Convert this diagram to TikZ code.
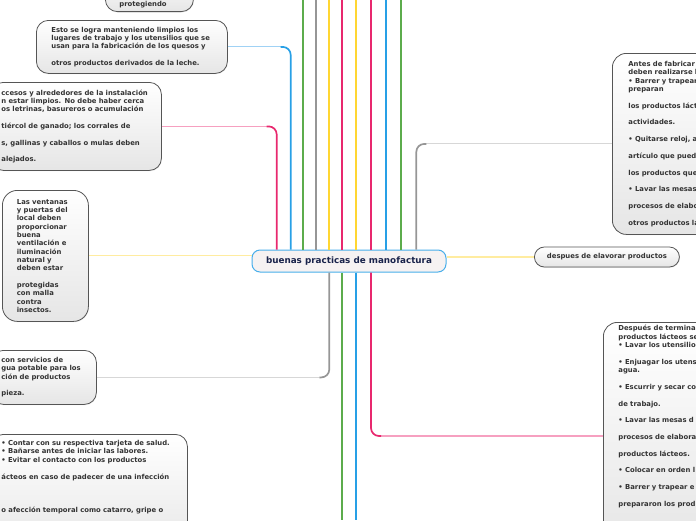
\documentclass[tikz,border=0pt]{standalone}
\usepackage{fontspec}
\setmainfont{DejaVu Sans}
\usetikzlibrary{shadows}

\definecolor{mmpink}{RGB}{232,40,110}
\definecolor{mmpinklight}{RGB}{246,160,192}
\definecolor{mmblue}{RGB}{40,160,230}
\definecolor{mmbluelight}{RGB}{160,210,245}
\definecolor{mmgreen}{RGB}{92,172,76}
\definecolor{mmgray}{RGB}{150,150,150}
\definecolor{mmgraylight}{RGB}{215,215,215}
\definecolor{mmyellow}{RGB}{255,214,50}
\definecolor{mmyellowlight}{RGB}{255,236,160}
\definecolor{mmnavy}{RGB}{25,35,75}
\definecolor{mmborder}{RGB}{85,85,85}
\definecolor{mmtitlefill}{RGB}{246,242,242}

\newcommand{\mmgap}{\\[8.35pt]}

\tikzset{
  topic/.style={draw=mmborder, line width=0.8pt, rounded corners=12pt,
    top color=white, bottom color=black!10, align=left, inner ysep=0pt,
    text=black!80, font=\fontsize{6.85}{8.35}\selectfont\bfseries,
    drop shadow={opacity=0.2, shadow xshift=0.5pt, shadow yshift=-0.8pt}},
  central/.style={draw=mmblue!85, line width=1pt, fill=mmtitlefill,
    rounded corners=8pt, minimum width=194pt, minimum height=22pt, inner sep=0pt,
    text=mmnavy, font=\fontsize{8.8}{10}\selectfont\bfseries},
  branch/.style={line width=1.7pt, rounded corners=8pt},
  twig/.style={line width=1.1pt}
}

\begin{document}
\begin{tikzpicture}[x=1pt, y=-1pt]
\useasboundingbox (0,0) rectangle (696,520);
\clip (0,0) rectangle (696,520);

% ends of the branches that leave the page
\coordinate (up1) at (303.3,0);
\coordinate (up2) at (316.3,0);
\coordinate (up3) at (329.3,0);
\coordinate (up4) at (342.3,0);
\coordinate (up5) at (356.3,0);
\coordinate (up6) at (371,0);
\coordinate (up7) at (386,0);
\coordinate (up8) at (401.3,0);
\coordinate (dn1) at (342.3,520);
\coordinate (dn2) at (356.3,520);
% columns of the bent branches
\coordinate (colacc) at (276.7,0);
\coordinate (colesto) at (290.7,0);
\coordinate (colantes) at (416.3,0);
\coordinate (colserv) at (329.3,0);
\coordinate (colafter) at (371,0);

\node[central] (cen) at (349,261) {buenas practicas de manofactura};

\node[topic, anchor=south west, text width=60pt, inner xsep=14pt, inner ysep=4pt] (prot) at (105,12)
  {\mbox{}\\[20pt]protegiendo};

\node[topic, anchor=north west, minimum height=53pt, text width=161pt, inner xsep=15pt] (esto) at (36,20)
  {Esto se logra manteniendo limpios los\\lugares de trabajo y los utensilios que se\\usan para la fabricación de los quesos y\mmgap otros productos derivados de la leche.};

\node[topic, anchor=north west, minimum height=88pt, text width=150pt, inner xsep=10pt] (acc) at (-9,82)
  {ccesos y alrededores de la instalación\\n estar limpios. No debe haber cerca\\os letrinas, basureros o acumulación\mmgap tiércol de ganado; los corrales de\mmgap s, gallinas y caballos o mulas deben\mmgap alejados.};

\node[topic, rounded corners=15pt, anchor=north west, minimum height=131pt, text width=57pt, inner xsep=14.5pt] (vent) at (2,190)
  {Las ventanas\\y puertas del\\local deben\\proporcionar\\buena\\ventilación e\\iluminación\\natural y\\deben estar\mmgap protegidas\\con malla\\contra\\insectos.};

\node[topic, anchor=north west, minimum height=54pt, text width=85pt, inner xsep=10pt] (serv) at (-9,350)
  {con servicios de\\gua potable para los\\ción de productos\mmgap pieza.};

\node[topic, anchor=north west, text width=176pt, inner xsep=10pt, inner ysep=6pt] (pers) at (-9,434)
  {• Contar con su respectiva tarjeta de salud.\\• Bañarse antes de iniciar las labores.\\• Evitar el contacto con los productos\mmgap ácteos en caso de padecer de una infección\\[25pt]o afección temporal como catarro, gripe o\\[30pt]\mbox{}};

\node[topic, rounded corners=14pt, anchor=north west, minimum height=181pt, text width=100pt, inner xsep=16pt] (antes) at (612,53)
  {Antes de fabricar\\deben realizarse l\\• Barrer y trapear\\preparan\mmgap los productos láct\mmgap actividades.\mmgap • Quitarse reloj, a\mmgap artículo que pued\mmgap los productos que\mmgap • Lavar las mesas\mmgap procesos de elabo\mmgap otros productos la};

\node[topic, rounded corners=10pt, anchor=west, minimum width=145pt, minimum height=20pt, inner xsep=0pt] (desp) at (534,257)
  {despues de elavorar productos};

\node[topic, rounded corners=14pt, anchor=north west, text width=100pt, inner xsep=15pt, inner ysep=3pt] (after) at (603,322)
  {Después de termina\\productos lácteos se\\• Lavar los utensilio\mmgap • Enjuagar los utens\\agua.\mmgap • Escurrir y secar co\mmgap de trabajo.\mmgap • Lavar las mesas d\mmgap procesos de elabora\mmgap productos lácteos.\mmgap • Colocar en orden l\mmgap • Barrer y trapear e\mmgap prepararon los prod\\[30pt]\mbox{}};
\coordinate (afterin) at ([yshift=-114pt]after.north west);

% straight branches
\draw[twig, mmyellowlight] (vent.east) -- (cen.west |- vent.east);
\draw[twig, mmyellowlight] (cen.east |- desp.west) -- (desp.west);
\foreach \c/\col in {up1/mmgreen, up2/mmgray, up3/mmyellow, up4/mmpink, up5/mmyellow, up6/mmpink, up7/mmblue, up8/mmgreen}
  \draw[branch, \col] (cen.north -| \c) -- (\c);
\foreach \c/\col in {dn1/mmgreen, dn2/mmblue}
  \draw[branch, \col] (cen.south -| \c) -- (\c);

% bent branches
\draw[twig, mmbluelight] (esto.east) -- ([xshift=-10pt]esto.east -| colesto);
\draw[branch, mmblue] ([xshift=-10pt]esto.east -| colesto) -| (cen.north -| colesto);
\draw[twig, mmpinklight] (acc.east) -- ([xshift=-10pt]acc.east -| colacc);
\draw[branch, mmpink] ([xshift=-10pt]acc.east -| colacc) -| (cen.north -| colacc);
\draw[twig, mmgraylight] (antes.west) -- ([xshift=10pt]antes.west -| colantes);
\draw[branch, mmgray] ([xshift=10pt]antes.west -| colantes) -| (cen.north -| colantes);
\draw[twig, mmgraylight] (serv.east) -- ([xshift=-10pt]serv.east -| colserv);
\draw[branch, mmgray] ([xshift=-10pt]serv.east -| colserv) -| (cen.south -| colserv);
\draw[twig, mmpinklight] (afterin) -- ([xshift=10pt]afterin -| colafter);
\draw[branch, mmpink] ([xshift=10pt]afterin -| colafter) -| (cen.south -| colafter);

\end{tikzpicture}
\end{document}
